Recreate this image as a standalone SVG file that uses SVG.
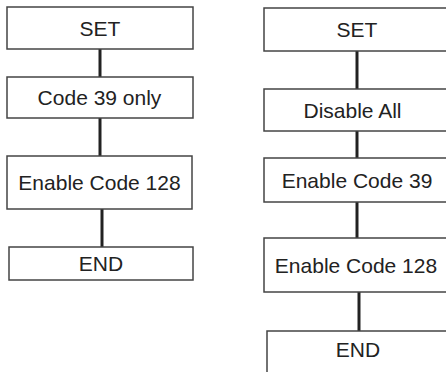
<svg xmlns="http://www.w3.org/2000/svg" width="446" height="372" viewBox="0 0 446 372">
<style>
.box{fill:#fff;stroke:#444;stroke-width:1.5}
.lbl{font-family:"Liberation Sans",Arial,sans-serif;font-size:21px;fill:#222;text-anchor:middle}
.con{stroke:#222;stroke-width:3;fill:none}
</style>
<rect width="446" height="372" fill="#fff"/>
<g id="connectors">
<line class="con" x1="100" y1="49" x2="100" y2="77"/>
<line class="con" x1="100" y1="118" x2="100" y2="156"/>
<line class="con" x1="102" y1="209" x2="102" y2="247"/>
<line class="con" x1="357" y1="51" x2="357" y2="89"/>
<line class="con" x1="357" y1="131" x2="357" y2="158"/>
<line class="con" x1="357" y1="202" x2="357" y2="238"/>
<line class="con" x1="359" y1="292" x2="359" y2="331"/>
</g>
<g id="l-set"><rect class="box" x="7" y="7" width="186" height="42"/><text class="lbl" x="100" y="35.5">SET</text></g>
<g id="l-code39"><rect class="box" x="7" y="77" width="186" height="41"/><text class="lbl" x="99.5" y="105">Code 39 only</text></g>
<g id="l-code128"><rect class="box" x="7" y="156" width="185" height="53"/><text class="lbl" x="99.5" y="190">Enable Code 128</text></g>
<g id="l-end"><rect class="box" x="9" y="247" width="184" height="33"/><text class="lbl" x="101" y="271">END</text></g>
<g id="r-set"><rect class="box" x="264" y="8" width="186" height="43"/><text class="lbl" x="357" y="37">SET</text></g>
<g id="r-disable"><rect class="box" x="264" y="89" width="186" height="42"/><text class="lbl" x="352.5" y="117.5">Disable All</text></g>
<g id="r-code39"><rect class="box" x="264" y="158" width="186" height="44"/><text class="lbl" x="357" y="187.5">Enable Code 39</text></g>
<g id="r-code128"><rect class="box" x="264" y="238" width="186" height="54"/><text class="lbl" x="356" y="272.5">Enable Code 128</text></g>
<g id="r-end"><rect class="box" x="267" y="331" width="186" height="50"/><text class="lbl" x="358" y="357">END</text></g>
</svg>
